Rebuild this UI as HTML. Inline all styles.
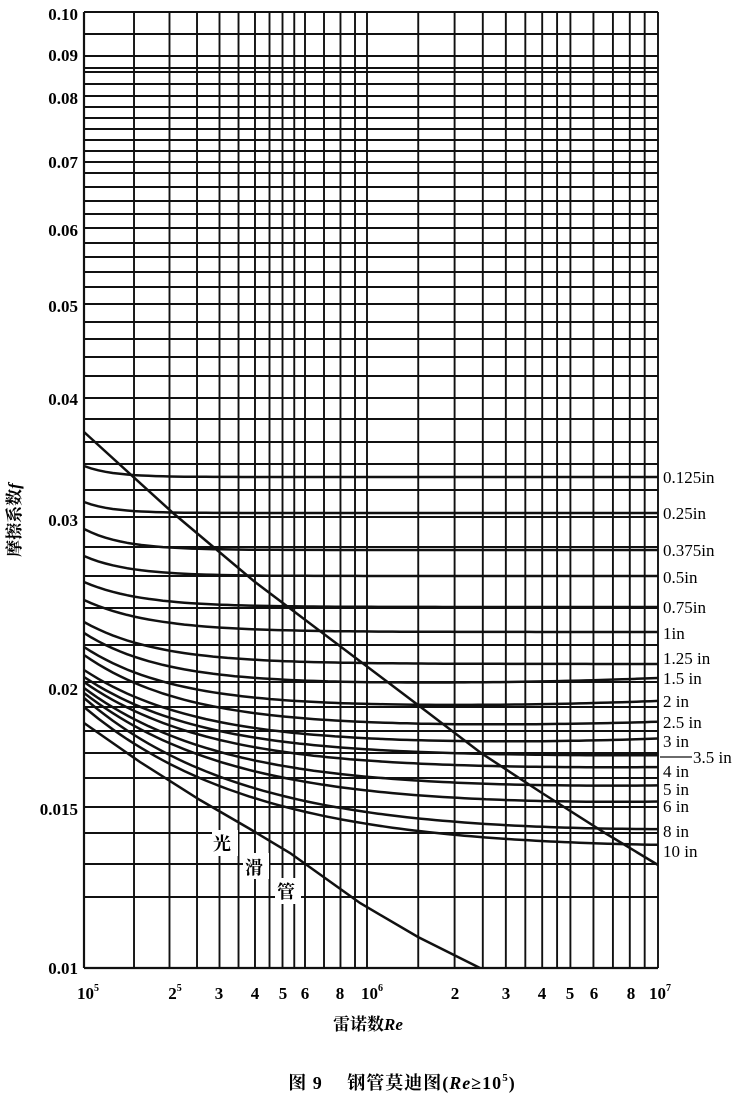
<!DOCTYPE html>
<html><head><meta charset="utf-8"><style>
body{margin:0;background:#fff;}
svg{display:block;}
text{font-family:"Liberation Serif","Noto Serif CJK SC",serif;fill:#000;}
</style></head><body>
<svg id="s" width="743" height="1095" viewBox="0 0 743 1095" xmlns="http://www.w3.org/2000/svg">
<g id="grid" stroke="#111" stroke-width="1.9" fill="none"></g>
<g id="curves" stroke="#111" stroke-width="2.5" fill="none"></g>
<g font-size="17" font-weight="bold" text-anchor="end">
<text x="78" y="20">0.10</text><text x="78" y="61">0.09</text><text x="78" y="104">0.08</text>
<text x="78" y="168">0.07</text><text x="78" y="236">0.06</text><text x="78" y="312">0.05</text>
<text x="78" y="405">0.04</text><text x="78" y="526">0.03</text><text x="78" y="695">0.02</text>
<text x="78" y="815">0.015</text><text x="78" y="974">0.01</text>
</g>
<g font-size="17" font-weight="bold" text-anchor="middle">
<text x="88" y="999">10<tspan font-size="10" dy="-8">5</tspan></text>
<text x="175" y="999">2<tspan font-size="10" dy="-8">5</tspan></text>
<text x="219" y="999">3</text><text x="255" y="999">4</text><text x="283" y="999">5</text>
<text x="305" y="999">6</text><text x="340" y="999">8</text>
<text x="372" y="999">10<tspan font-size="10" dy="-8">6</tspan></text>
<text x="455" y="999">2</text><text x="506" y="999">3</text><text x="542" y="999">4</text>
<text x="570" y="999">5</text><text x="594" y="999">6</text><text x="631" y="999">8</text>
<text x="660" y="999">10<tspan font-size="10" dy="-8">7</tspan></text>
</g>
<text x="368" y="1030" font-size="17" font-weight="bold" text-anchor="middle">雷诺数<tspan font-style="italic">Re</tspan></text>
<text transform="translate(20,520) rotate(-90)" font-size="17" font-weight="bold" text-anchor="middle">摩擦系数<tspan font-style="italic">f</tspan></text>
<text x="402" y="1089" font-size="18" font-weight="bold" text-anchor="middle" letter-spacing="1">图 9　 钢管莫迪图(<tspan font-style="italic">Re</tspan>≥10<tspan font-size="11" dy="-8">5</tspan><tspan dy="8">)</tspan></text>
<g font-size="18" font-weight="bold">
<rect x="212" y="830" width="26" height="26" fill="#fff"/><text x="213" y="850">光</text>
<rect x="243" y="853" width="26" height="26" fill="#fff"/><text x="245" y="874">滑</text>
<rect x="275" y="878" width="26" height="26" fill="#fff"/><text x="277" y="898">管</text>
</g>
<g font-size="17" id="lab"></g>
<line x1="660" y1="757" x2="692" y2="757" stroke="#111" stroke-width="1.2"/>
</svg>
<script>
var NS="http://www.w3.org/2000/svg";
function el(p,t,a){var e=document.createElementNS(NS,t);for(var k in a)e.setAttribute(k,a[k]);p.appendChild(e);return e;}
var g=document.getElementById('grid'),c=document.getElementById('curves'),lab=document.getElementById('lab');
var L=84,R=658,T=12,B=968;
var hy=[12,34,56,68,72,84,96,107,118,129,140,151,162,173,187,201,214,228,243,257,272,287,304,322,339,357,376,398,419,442,464,490,517,547,576,608,645,682,707,731,753,778,807,833,864,897];
hy.forEach(function(y){el(g,'line',{x1:L,y1:y,x2:R,y2:y});});
el(g,'line',{x1:L,y1:B,x2:R,y2:B,'stroke-width':2.2});
var vs=[1,1.5,2,2.5,3,3.5,4,4.5,5,5.5,6,7,8,9];
function xd(d,v,x0,w){return x0+Math.log10(v)*w;}
vs.forEach(function(v){el(g,'line',{x1:xd(0,v,84,284),y1:T,x2:xd(0,v,84,284),y2:B});});
[1,1.5,2,2.5,3,3.5,4,4.5,5,6,7,8,9,10].forEach(function(v){var x=xd(0,v,367,291);el(g,'line',{x1:x,y1:T,x2:x,y2:B});});
el(g,'line',{x1:L,y1:T,x2:L,y2:B,'stroke-width':2.2});
var cv=[[466,477,0.05,0,477,'0.125in'],[502,513,0.05,0,513,'0.25in'],[529,550,0.07,0,550,'0.375in'],[556,576,0.08,0,577,'0.5in'],[582,607,0.1,0,607,'0.75in'],[600,632,0.12,0,633,'1in'],[622,664,0.13,0,658,'1.25 in'],[633,684,0.14,6,678,'1.5 in'],[647,707,0.16,6,701,'2 in'],[655,727,0.18,5,722,'2.5 in'],[670,745,0.2,6,741,'3 in'],[677,757,0.21,1,757,''],[682,770,0.22,2,771,'4 in'],[688,790,0.24,3,789,'5 in'],[693,808,0.26,4,806,'6 in'],[698,836,0.28,3,831,'8 in'],[707,852,0.3,2,851,'10 in']];
cv.forEach(function(a){var d='';for(var i=0;i<=80;i++){var t=i/80,x=L+t*(R-L);var y=a[1]+(a[0]-a[1])*Math.exp(-t/a[2])-a[3]*Math.pow(t,4);d+=(i?'L':'M')+x.toFixed(1)+' '+y.toFixed(1);}el(c,'path',{d:d});
if(a[5]){var tx=el(lab,'text',{x:663,y:a[4]+6});tx.textContent=a[5];}});
var t35=el(lab,'text',{x:693,y:763});t35.textContent='3.5 in';
el(c,'polyline',{points:'84,432 173,513 255,582 418,705 481,753 542,793 605,833 658,865'});
el(c,'polyline',{points:'84,723 140,762 200,800 250,829 290,853 360,903 418,937 480,968'});
</script>
</body></html>
